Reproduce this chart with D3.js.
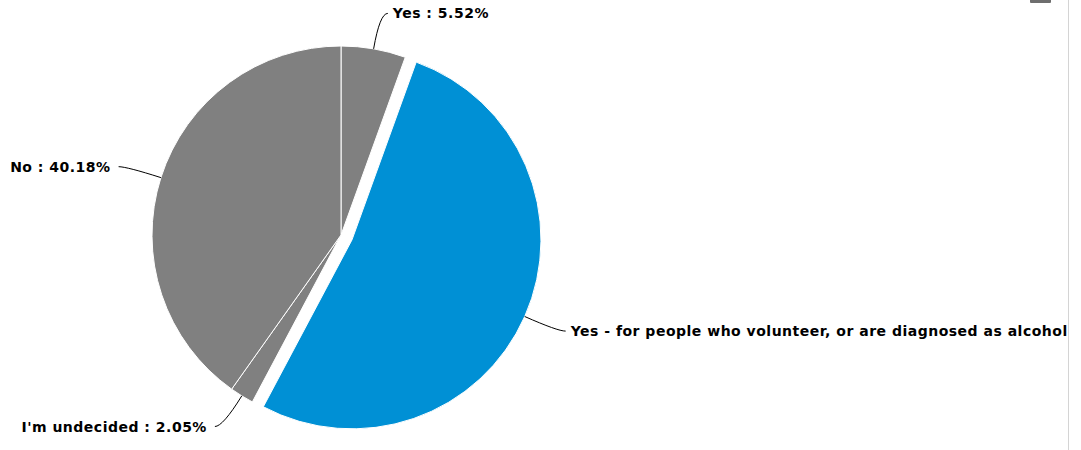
<!DOCTYPE html>
<html>
<head>
<meta charset="utf-8">
<script src="https://cdn.jsdelivr.net/npm/d3@7"></script>
<style>
  html, body { margin: 0; padding: 0; background: #fff; }
  #chart { position: relative; width: 1068px; height: 450px; overflow: hidden; border-right: 1px solid #d4d4d4; }
</style>
</head>
<body>
<div id="chart"></div>
<script>
const categories = ["Yes", "Yes - for people who volunteer, or are diagnosed as alcoholics", "I'm undecided", "No"];
const percents = [5.52, 52.25, 2.05, 40.18];
const colors = ["#808080", "#0090d5", "#808080", "#808080"];
const exploded = [false, true, false, false];

const data = categories.map((c, i) => ({ name: c, value: percents[i], color: colors[i], pull: exploded[i] }));

const width = 1068;
const height = 450;
const cx = 341, cy = 235, radius = 189;

const svg = d3.select("#chart").append("svg")
  .attr("width", width)
  .attr("height", height);

// clipped legend remnant at top right
svg.append("rect")
  .attr("x", 1030)
  .attr("y", -4)
  .attr("width", 21)
  .attr("height", 7)
  .attr("rx", 1)
  .attr("fill", "#6e6e6e");

const pie = d3.pie().sort(null).value(d => d.value);
const arcs = pie(data);
const arc = d3.arc().innerRadius(0).outerRadius(radius);

const g = svg.append("g").attr("transform", `translate(${cx},${cy})`);

const mid = d => (d.startAngle + d.endAngle) / 2;
const offsetOf = d => {
  if (!d.data.pull) return [0, 0];
  const a = mid(d);
  return [12 * Math.sin(a), -12 * Math.cos(a)];
};

g.selectAll(".slice")
  .data(arcs)
  .enter()
    .append("path")
    .attr("class", "slice")
    .attr("transform", d => `translate(${offsetOf(d)})`)
    .attr("d", arc)
    .attr("fill", d => d.data.color)
    .attr("stroke", "#fff")
    .attr("stroke-width", 1);

// leader lines and labels
const label = g.selectAll(".label")
  .data(arcs)
  .enter()
    .append("g")
    .attr("class", "label")
    .attr("transform", d => `translate(${offsetOf(d)})`);

const pt = (a, r) => [r * Math.sin(a), -r * Math.cos(a)];
const isRight = d => Math.sin(mid(d)) >= 0;

label.append("path")
  .attr("fill", "none")
  .attr("stroke", "#000")
  .attr("stroke-width", 1)
  .attr("d", d => {
    const a = mid(d);
    const p0 = pt(a, radius);
    const p1 = pt(a, radius + 36);
    const p2 = [p1[0] + (isRight(d) ? 8 : -8), p1[1]];
    return `M${p0[0]},${p0[1]} Q${p1[0]},${p1[1]} ${p2[0]},${p2[1]}`;
  });

label.append("text")
  .text(d => `${d.data.name} : ${d3.format(".2f")(d.data.value)}%`)
  .attr("x", d => pt(mid(d), radius + 36)[0] + (isRight(d) ? 13 : -16))
  .attr("y", d => pt(mid(d), radius + 36)[1])
  .attr("dominant-baseline", "central")
  .attr("text-anchor", d => isRight(d) ? "start" : "end")
  .style("font-family", "'DejaVu Sans', Verdana, sans-serif")
  .style("font-weight", "bold")
  .style("font-size", "14px")
  .style("letter-spacing", "0.5px")
  .attr("fill", "#000");
</script>
</body>
</html>
